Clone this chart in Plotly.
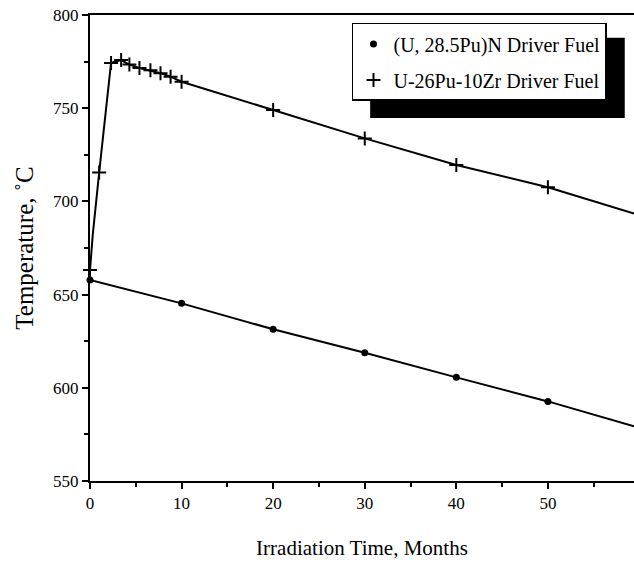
import plotly.graph_objects as go

# ---- data ----
nitride_x = [0, 10, 20, 30, 40, 50, 59.4]
nitride_y = [657.8, 645.3, 631.4, 618.8, 605.6, 592.7, 579.3]
nitride_marked = [0, 1, 2, 3, 4, 5]

metal_x = [0, 0.3, 1, 2.3, 3.4, 4.3, 5.4, 6.6, 7.7, 8.8, 10, 20, 30, 40, 50, 59.4]
metal_y = [663.2, 682, 715.5, 774.3, 775.8, 773.4, 771.6, 770.3, 768.8, 766.9, 764.2,
           749.0, 733.8, 719.5, 707.6, 693.5]
metal_marked = [0, 2, 3, 4, 5, 6, 7, 8, 9, 10, 11, 12, 13, 14]

x_ticks = [0, 10, 20, 30, 40, 50]
y_ticks = [550, 600, 650, 700, 750, 800]

name_nitride = "(U, 28.5Pu)N Driver Fuel"
name_metal = "U-26Pu-10Zr Driver Fuel"

FONT = "Liberation Serif, Times New Roman, serif"

fig = go.Figure()

fig.add_trace(go.Scatter(x=nitride_x, y=nitride_y, mode="lines",
                         line=dict(color="black", width=2), showlegend=False,
                         hoverinfo="skip", cliponaxis=False))
fig.add_trace(go.Scatter(x=metal_x, y=metal_y, mode="lines",
                         line=dict(color="black", width=2), showlegend=False,
                         hoverinfo="skip", cliponaxis=False))
fig.add_trace(go.Scatter(x=[nitride_x[i] for i in nitride_marked],
                         y=[nitride_y[i] for i in nitride_marked],
                         mode="markers", name=name_nitride, cliponaxis=False,
                         legendgroup="a",
                         marker=dict(symbol="circle", size=7, color="black")))
fig.add_trace(go.Scatter(x=[metal_x[i] for i in metal_marked],
                         y=[metal_y[i] for i in metal_marked],
                         mode="markers", name=name_metal, cliponaxis=False,
                         legendgroup="b",
                         marker=dict(symbol="cross-thin", size=10,
                                     line=dict(color="black", width=2))))

# legend drop shadow
fig.add_shape(type="rect", xref="paper", yref="paper",
              x0=0.515, x1=0.983, y0=0.779, y1=0.951,
              fillcolor="black", line=dict(width=0), layer="above")

fig.update_layout(
    width=634, height=563,
    margin=dict(l=90, r=0, t=15, b=82),
    paper_bgcolor="white", plot_bgcolor="white",
    font=dict(family=FONT, size=17, color="black"),
    showlegend=True,
    legend=dict(x=0.4816, y=0.983, xanchor="left", yanchor="top",
                bgcolor="white", bordercolor="black", borderwidth=1.5,
                font=dict(family=FONT, size=20, color="black"),
                itemwidth=30, tracegroupgap=7, traceorder="grouped",
                entrywidth=225, entrywidthmode="pixels"),
    xaxis=dict(range=[0, 59.4], tickvals=x_ticks, showgrid=False, zeroline=False,
               showline=True, linecolor="black", linewidth=2, mirror=True,
               ticks="outside", ticklen=6, tickwidth=2, tickcolor="black",
               minor=dict(dtick=5, ticks="outside", ticklen=4, tickwidth=1.5,
                          tickcolor="black", showgrid=False),
               tickfont=dict(family=FONT, size=17),
               title=dict(text="Irradiation Time, Months", standoff=28,
                          font=dict(family=FONT, size=21))),
    yaxis=dict(range=[550, 800], tickvals=y_ticks, showgrid=False, zeroline=False,
               showline=True, linecolor="black", linewidth=2,
               ticks="outside", ticklen=6, tickwidth=2, tickcolor="black",
               minor=dict(dtick=25, ticks="outside", ticklen=4, tickwidth=1.5,
                          tickcolor="black", showgrid=False),
               tickfont=dict(family=FONT, size=17),
               title=dict(text="Temperature, ˚C", standoff=12,
                          font=dict(family=FONT, size=25))),
)

fig.write_html("out.html",
               config={"displayModeBar": False},
               post_script="document.body.style.margin='0';"
                           "document.body.style.overflow='hidden';")
